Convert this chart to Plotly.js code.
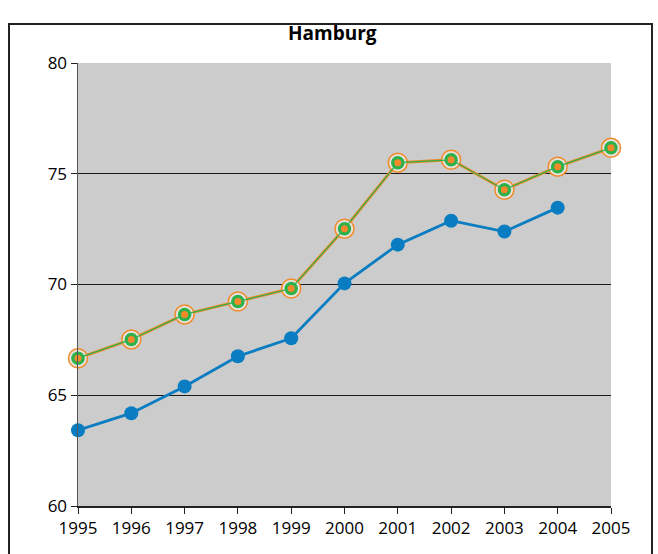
<!DOCTYPE html>
<html>
<head>
<meta charset="utf-8">
<script src="https://cdn.plot.ly/plotly-3.0.1.min.js"></script>
<style>html,body{margin:0;padding:0;background:#fff;}#chart{width:658px;height:554px;}</style>
</head>
<body>
<div id="chart"></div>
<script>
const years = [1995, 1996, 1997, 1998, 1999, 2000, 2001, 2002, 2003, 2004, 2005];
const blueYears = [1995, 1996, 1997, 1998, 1999, 2000, 2001, 2002, 2003, 2004];
const blueValues = [63.42, 64.19, 65.40, 66.76, 67.57, 70.05, 71.80, 72.88, 72.39, 73.47];
const orangeValues = [66.67, 67.52, 68.65, 69.23, 69.82, 72.52, 75.50, 75.63, 74.28, 75.32, 76.17];
const greenValues = [66.67, 67.52, 68.65, 69.23, 69.82, 72.52, 75.50, 75.63, 74.28, 75.32, 76.17];
const yTicks = [60, 65, 70, 75, 80];
const title = 'Hamburg';

const BLUE = '#0a7dc2', ORANGE = '#f28a2a', GREEN = '#2eb04a';
const FONT = '"Open Sans", "Noto Sans", sans-serif';

const traces = [
  {x: blueYears, y: blueValues, mode: 'lines+markers', line: {color: BLUE, width: 2.8},
   marker: {color: BLUE, size: 14, line: {width: 0}}, cliponaxis: false, hoverinfo: 'none'},
  {x: years, y: orangeValues, mode: 'lines+markers', line: {color: ORANGE, width: 3},
   marker: {color: '#e6e2dc', size: 19, line: {color: ORANGE, width: 1.5}}, cliponaxis: false, hoverinfo: 'none'},
  {x: years, y: greenValues, mode: 'lines+markers', line: {color: GREEN, width: 1.2},
   marker: {color: GREEN, size: 13.5, line: {width: 0}}, cliponaxis: false, hoverinfo: 'none'},
  {x: years, y: orangeValues, mode: 'markers',
   marker: {color: ORANGE, size: 7, line: {width: 0}}, cliponaxis: false, hoverinfo: 'none'}
];

const pw = 533, ph = 443;
const layout = {
  width: 658, height: 554,
  margin: {l: 78, r: 47, t: 63, b: 48, pad: 0},
  paper_bgcolor: '#ffffff',
  plot_bgcolor: '#cccccc',
  showlegend: false,
  font: {family: FONT, size: 17, color: '#000'},
  title: {text: '<b>' + title + '</b>', x: 0.505, xref: 'container', y: 0.94, yref: 'container',
          xanchor: 'center', yanchor: 'middle', font: {family: FONT, size: 19, color: '#000'}},
  xaxis: {range: [1995, 2005], tickvals: years, ticktext: years.map(String), showgrid: false,
          zeroline: false, showline: true, linecolor: '#222', linewidth: 1.5,
          ticks: 'outside', ticklen: 6, tickcolor: '#222', tickwidth: 1,
          tickfont: {family: FONT, size: 17, color: '#000'}, fixedrange: true},
  yaxis: {range: [60, 80], tickvals: yTicks, ticktext: yTicks.map(String), showgrid: true,
          gridcolor: '#1a1a1a', gridwidth: 1, zeroline: false, showline: true,
          linecolor: '#555', linewidth: 1.5, ticks: 'outside', ticklen: 6, tickcolor: '#222',
          tickwidth: 1, tickfont: {family: FONT, size: 17, color: '#000'}, fixedrange: true},
  shapes: [
    {type: 'rect', xref: 'paper', yref: 'paper',
     x0: (9 - 78) / pw, x1: (652 - 78) / pw, y0: (491 - 570) / ph, y1: (491 - 9) / ph,
     line: {color: '#222', width: 2}, fillcolor: 'rgba(0,0,0,0)', layer: 'above'}
  ]
};

Plotly.newPlot('chart', traces, layout, {staticPlot: true, displayModeBar: false});
</script>
</body>
</html>
